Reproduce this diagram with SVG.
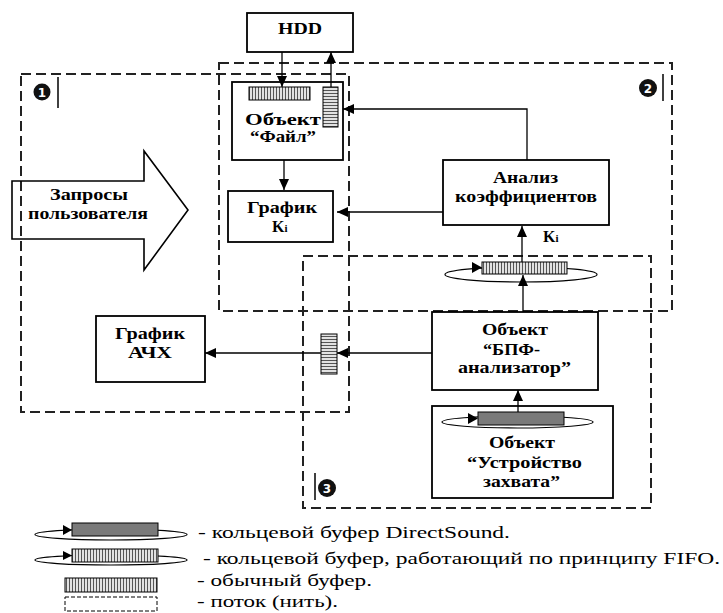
<svg xmlns="http://www.w3.org/2000/svg" width="723" height="613" viewBox="0 0 723 613" font-family="Liberation Serif, Times New Roman, serif">
<defs>
  <pattern id="vh" patternUnits="userSpaceOnUse" width="3" height="3"><rect width="3" height="3" fill="#e2e2e2"/><rect width="1" height="3" fill="#555"/></pattern>
  <pattern id="hh" patternUnits="userSpaceOnUse" width="3" height="3"><rect width="3" height="3" fill="#e2e2e2"/><rect width="3" height="1" fill="#555"/></pattern>
  <marker id="ah" markerWidth="11" markerHeight="10" refX="11" refY="5" orient="auto" markerUnits="userSpaceOnUse"><path d="M0,0 L11,5 L0,10 z" fill="#000"/></marker>
</defs>
<style>
  .box{fill:#fff;stroke:#000;stroke-width:1.8}
  .thr{fill:none;stroke:#222;stroke-width:2;stroke-dasharray:10 5}
  .con{fill:none;stroke:#000;stroke-width:1.3;marker-end:url(#ah)}
  .lbl{font-weight:bold;font-size:16px;fill:#000}
  .leg{font-size:17px;fill:#000}
  .buf{stroke:#000;stroke-width:1}
  .ring{fill:none;stroke:#000;stroke-width:1.2}
  .num{font-weight:bold;font-size:12px;fill:#fff;text-anchor:middle}
  .bar{stroke:#000;stroke-width:1.5}
</style>

<g id="threads">
  <rect id="thread1" class="thr" x="21" y="74" width="328" height="338"/>
  <rect id="thread2" class="thr" x="219" y="63" width="453" height="248"/>
  <rect id="thread3" class="thr" x="303" y="256" width="348" height="252"/>
</g>

<g id="markers" font-family="DejaVu Sans, sans-serif">
  <circle cx="42" cy="92" r="8.5" fill="#111"/><text class="num" x="42" y="96.5">1</text>
  <line class="bar" x1="58" y1="77" x2="58" y2="108"/>
  <circle cx="648" cy="88" r="9" fill="#111"/><text class="num" x="648" y="92.5">2</text>
  <line class="bar" x1="663" y1="74" x2="663" y2="101"/>
  <circle cx="327" cy="488" r="9" fill="#111"/><text class="num" x="327" y="492.5">3</text>
  <line class="bar" x1="315" y1="473" x2="315" y2="500"/>
</g>

<g id="hdd">
  <rect class="box" x="247" y="13" width="106" height="39"/>
  <text class="lbl" x="278" y="34" textLength="44" lengthAdjust="spacingAndGlyphs" font-family="Liberation Serif">HDD</text>
</g>

<g id="file">
  <rect class="box" x="232" y="82" width="111" height="78"/>
  <rect class="buf" x="249" y="87" width="61" height="13" fill="url(#vh)"/>
  <rect class="buf" x="323" y="87" width="15" height="40" fill="url(#hh)"/>
  <text class="lbl" x="245" y="125" textLength="76" lengthAdjust="spacingAndGlyphs">Объект</text>
  <text class="lbl" x="250" y="142" textLength="66" lengthAdjust="spacingAndGlyphs">“Файл”</text>
</g>

<g id="graphKi">
  <rect class="box" x="228" y="191" width="105" height="51"/>
  <text class="lbl" x="247" y="213" textLength="70" lengthAdjust="spacingAndGlyphs">График</text>
  <text class="lbl" x="272" y="232">K<tspan font-size="11">i</tspan></text>
</g>

<g id="requests">
  <polygon points="12,181 144,181 144,151 188,210 144,270 144,239 12,239" fill="none" stroke="#000" stroke-width="1.6"/>
  <text class="lbl" x="50" y="200" textLength="78" lengthAdjust="spacingAndGlyphs">Запросы</text>
  <text class="lbl" x="28" y="219" textLength="120" lengthAdjust="spacingAndGlyphs">пользователя</text>
</g>

<g id="analysis">
  <rect class="box" x="443" y="160" width="166" height="65"/>
  <text class="lbl" x="493" y="183" textLength="65" lengthAdjust="spacingAndGlyphs">Анализ</text>
  <text class="lbl" x="455" y="202" textLength="142" lengthAdjust="spacingAndGlyphs">коэффициентов</text>
</g>

<g id="ki-label">
  <text class="lbl" x="543" y="242">K<tspan font-size="11">i</tspan></text>
</g>

<g id="fifo">
  <ellipse class="ring" cx="521" cy="274.5" rx="76" ry="7.5"/>
  <rect class="buf" x="482" y="262" width="85" height="12" fill="url(#vh)"/>
  <path d="M472,262 L482,267.5 L472,273 z" fill="#000"/>
</g>

<g id="graphAFC">
  <rect class="box" x="96" y="316" width="109" height="66"/>
  <text class="lbl" x="115" y="339" textLength="70" lengthAdjust="spacingAndGlyphs">График</text>
  <text class="lbl" x="128" y="358" textLength="44" lengthAdjust="spacingAndGlyphs">АЧХ</text>
</g>

<g id="buffer2">
  <rect class="buf" x="321" y="334" width="16" height="40" fill="url(#hh)"/>
</g>

<g id="fft">
  <rect class="box" x="432" y="312" width="166" height="78"/>
  <text class="lbl" x="482" y="335" textLength="66" lengthAdjust="spacingAndGlyphs">Объект</text>
  <text class="lbl" x="483" y="355" textLength="57" lengthAdjust="spacingAndGlyphs">“БПФ-</text>
  <text class="lbl" x="458" y="373" textLength="113" lengthAdjust="spacingAndGlyphs">анализатор”</text>
</g>

<g id="device">
  <rect class="box" x="432" y="406" width="181" height="92"/>
  <ellipse class="ring" cx="517.5" cy="422" rx="75.5" ry="6"/>
  <rect class="buf" x="478" y="412" width="86" height="13" fill="#7a7a7a"/>
  <path d="M468,413 L478,418.5 L468,424 z" fill="#000"/>
  <text class="lbl" x="489" y="448" textLength="66" lengthAdjust="spacingAndGlyphs">Объект</text>
  <text class="lbl" x="467" y="468" textLength="115" lengthAdjust="spacingAndGlyphs">“Устройство</text>
  <text class="lbl" x="483" y="487" textLength="77" lengthAdjust="spacingAndGlyphs">захвата”</text>
</g>

<g id="connectors">
  <line class="con" x1="282" y1="52" x2="282" y2="87"/>
  <line class="con" x1="331" y1="87" x2="331" y2="52"/>
  <polyline class="con" points="527,160 527,109 343,109"/>
  <line class="con" x1="284" y1="160" x2="284" y2="190"/>
  <line class="con" x1="443" y1="212" x2="337" y2="212"/>
  <line class="con" x1="522" y1="262" x2="522" y2="226"/>
  <line class="con" x1="523" y1="312" x2="523" y2="275"/>
  <line class="con" x1="518" y1="412" x2="518" y2="390"/>
  <line class="con" x1="432" y1="353" x2="337" y2="353"/>
  <line class="con" x1="321" y1="353" x2="205" y2="353"/>
</g>

<g id="legend">
  <ellipse class="ring" cx="111" cy="534.5" rx="76" ry="5.5"/>
  <rect class="buf" x="72" y="523" width="86" height="13" fill="#7a7a7a"/>
  <path d="M63,525 L72,530 L63,535 z" fill="#000"/>
  <text class="leg" x="198" y="538" textLength="312" lengthAdjust="spacingAndGlyphs">- кольцевой буфер DirectSound.</text>
  <ellipse class="ring" cx="111" cy="560" rx="76" ry="5"/>
  <rect class="buf" x="72" y="549" width="86" height="13" fill="url(#vh)"/>
  <path d="M63,551 L72,555.5 L63,560 z" fill="#000"/>
  <text class="leg" x="203" y="564" textLength="517" lengthAdjust="spacingAndGlyphs">- кольцевой буфер, работающий по принципу FIFO.</text>
  <rect class="buf" x="65" y="578" width="92" height="14" fill="url(#vh)"/>
  <text class="leg" x="197" y="586" textLength="175" lengthAdjust="spacingAndGlyphs">- обычный буфер.</text>
  <rect x="65" y="597" width="92" height="14" fill="none" stroke="#000" stroke-width="1" stroke-dasharray="4 2"/>
  <text class="leg" x="197" y="607" textLength="141" lengthAdjust="spacingAndGlyphs">- поток (нить).</text>
</g>
</svg>
